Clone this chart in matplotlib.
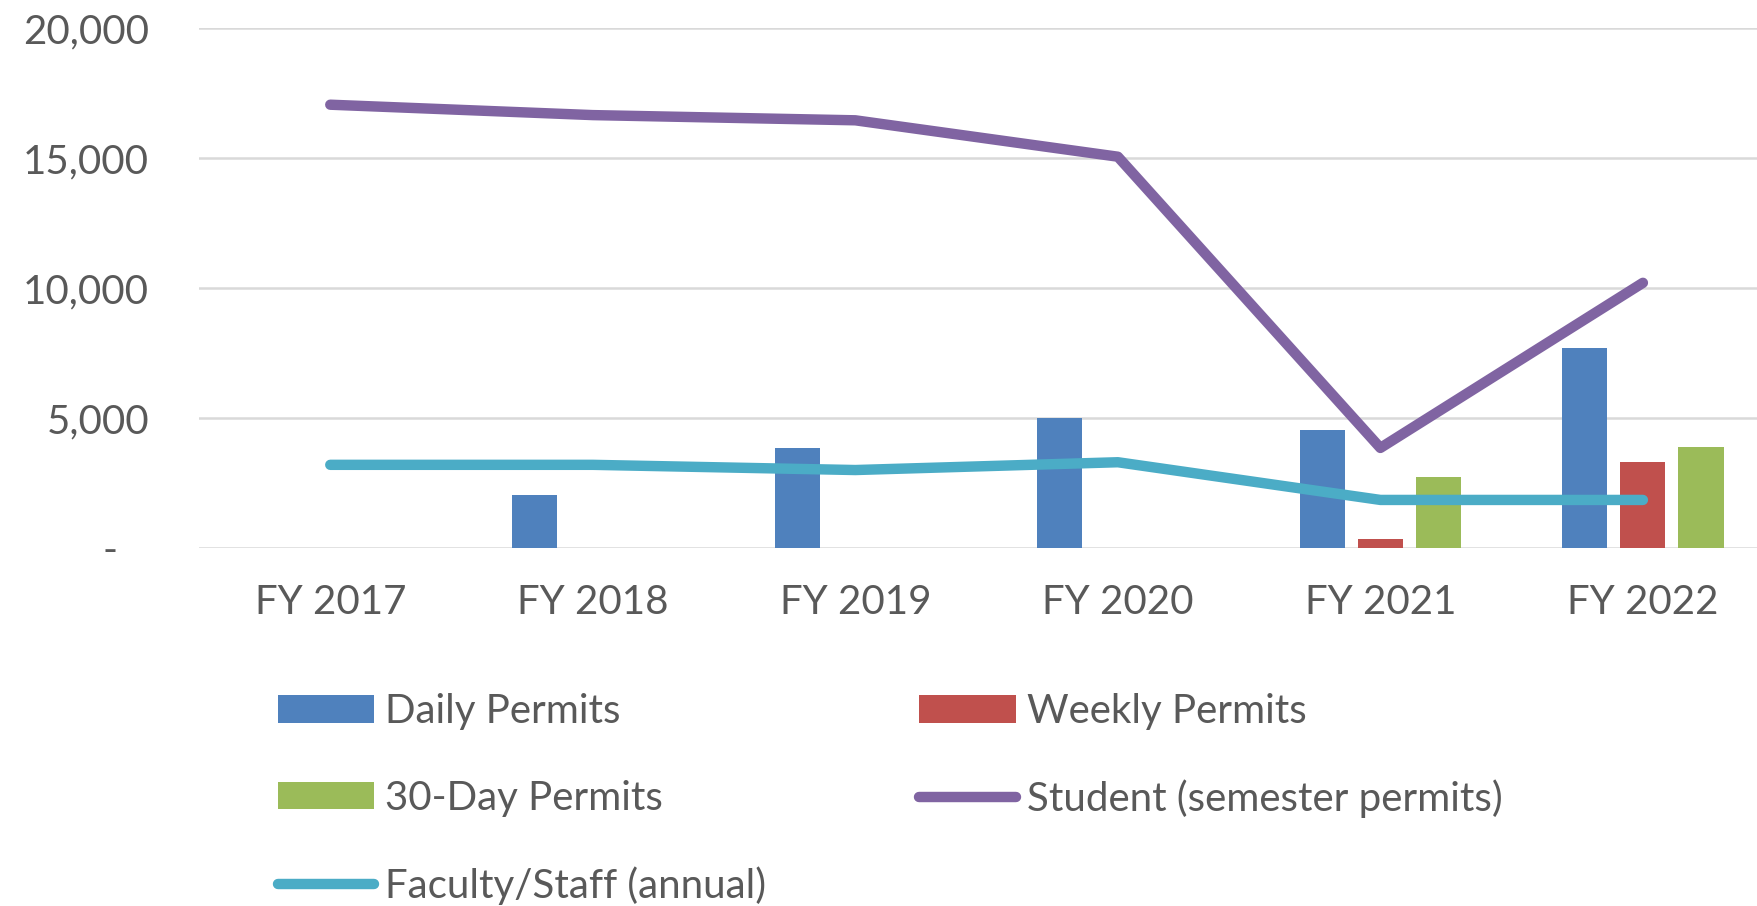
import matplotlib.pyplot as plt
import numpy as np

# Data
years = ['FY 2017', 'FY 2018', 'FY 2019', 'FY 2020', 'FY 2021', 'FY 2022']
daily = [0, 2050, 3850, 5000, 4550, 7700]
weekly = [0, 0, 0, 0, 350, 3300]
thirty_day = [0, 0, 0, 0, 2730, 3880]
student = [17050, 16650, 16450, 15050, 3850, 10200]
faculty = [3200, 3200, 3000, 3300, 1850, 1850]

ytick_vals = [0, 5000, 10000, 15000, 20000]
ytick_labels = ['-   ', '5,000', '10,000', '15,000', '20,000']

plt.rcParams['font.family'] = ['Lato', 'DejaVu Sans']
text_color = '#595959'
fs = 29

fig = plt.figure(figsize=(17.58, 9.06), dpi=100)
ax = fig.add_axes([0.1132, 0.3951, 0.896, 0.574])

x = np.arange(len(years))
w = 0.172
off = 0.221

ax.bar(x - off, daily, w, color='#4F81BD', label='Daily Permits', zorder=2)
ax.bar(x, weekly, w, color='#C0504D', label='Weekly Permits', zorder=2)
ax.bar(x + off, thirty_day, w, color='#9BBB59', label='30-Day Permits', zorder=2)
ax.plot(x, student, color='#8064A2', lw=7.5, solid_capstyle='round',
        solid_joinstyle='round', label='Student (semester permits)', zorder=3)
ax.plot(x, faculty, color='#4BACC6', lw=7.5, solid_capstyle='round',
        solid_joinstyle='round', label='Faculty/Staff (annual)', zorder=3)

ax.set_xlim(-0.5, len(years) - 0.5)
ax.set_ylim(0, 20000)
ax.set_yticks(ytick_vals)
ax.set_yticklabels(ytick_labels)
ax.set_xticks(x)
ax.set_xticklabels(years)
ax.tick_params(axis='y', length=0, pad=36, labelsize=fs, labelcolor=text_color)
ax.tick_params(axis='x', length=0, pad=26, labelsize=fs, labelcolor=text_color)
ax.grid(axis='y', color='#D9D9D9', lw=1.8, zorder=0)
ax.set_axisbelow(True)
for s in ax.spines.values():
    s.set_visible(False)

# legend, two columns filled row by row
h, l = ax.get_legend_handles_labels()
order = [l.index(n) for n in ['Daily Permits', '30-Day Permits', 'Faculty/Staff (annual)',
                              'Weekly Permits', 'Student (semester permits)']]
fig.legend([h[i] for i in order], [l[i] for i in order], ncol=2,
           loc='upper left', bbox_to_anchor=(0.158, 0.235), frameon=False,
           fontsize=fs, labelcolor=text_color, handlelength=2.4,
           handleheight=0.66, handletextpad=0.27, columnspacing=3.8,
           labelspacing=1.23, borderpad=0, borderaxespad=0)

fig.savefig('out.png', dpi=100)
